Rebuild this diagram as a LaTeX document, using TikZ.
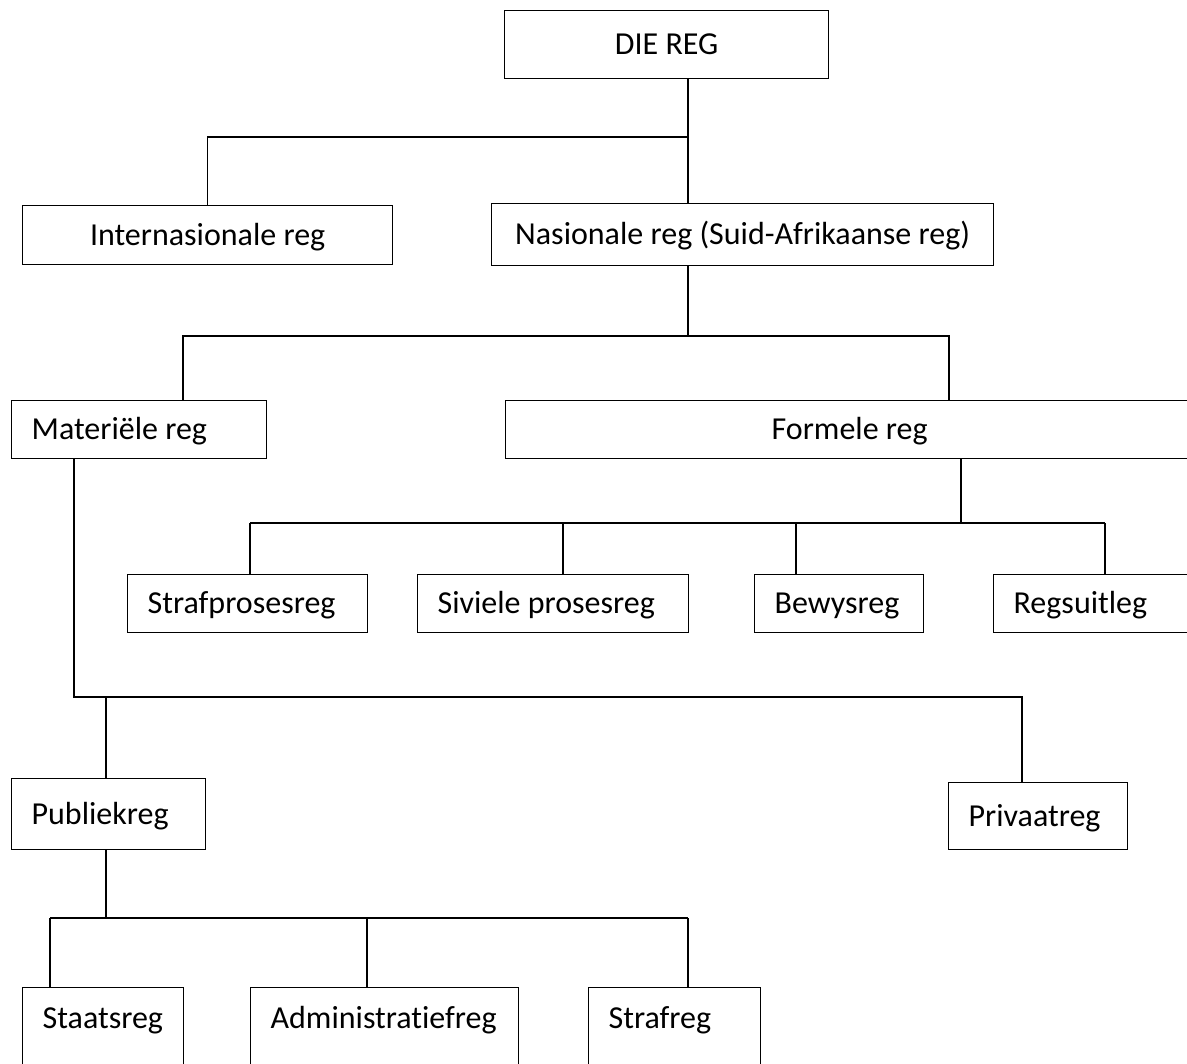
\documentclass[tikz,border=0pt]{standalone}
\usepackage{fontspec}
\setmainfont{Carlito}[Ligatures=NoCommon]
\begin{document}
\begin{tikzpicture}[x=1pt,y=-1pt]
  \tikzset{regbox/.style={draw=black,line width=1.3pt,anchor=north west,inner ysep=0pt,font=\fontsize{32}{38}\selectfont,text height=20pt,text depth=0pt}}
  \tikzset{midbox/.style={regbox,align=center,inner xsep=0pt}}
  \tikzset{leftbox/.style={regbox,align=flush left,inner xsep=20pt}}
  \tikzset{cutbox/.style={leftbox,minimum height=0pt,text height=41pt,text depth=120pt}}
  \tikzset{regline/.style={draw=black,line width=1.3pt}}
  \useasboundingbox (0,0) rectangle (1187,1064);
  \clip (0,0) rectangle (1187,1064);
  % boxes
  \node[midbox,minimum width=324pt,minimum height=68pt] (reg) at (504,10) {DIE REG};
  \node[midbox,minimum width=370pt,minimum height=59pt] (intl) at (22,205) {Internasionale reg};
  \node[midbox,minimum width=502pt,minimum height=62pt] (nas) at (491,203) {Nasionale reg (Suid-Afrikaanse reg)};
  \node[leftbox,text width=215pt,minimum height=58pt] (materieel) at (11,400) {Materiële reg};
  \node[midbox,minimum width=688pt,minimum height=58pt] (formeel) at (505,400) {Formele reg};
  \node[leftbox,text width=200pt,minimum height=58pt] (strafproses) at (127,574) {Strafprosesreg};
  \node[leftbox,text width=231pt,minimum height=58pt] (siviel) at (417,574) {Siviele prosesreg};
  \node[leftbox,text width=129pt,minimum height=58pt] (bewys) at (754,574) {Bewysreg};
  \node[leftbox,text width=190pt,minimum height=58pt] (uitleg) at (993,574) {Regsuitleg};
  \node[leftbox,text width=154pt,minimum height=71pt] (publiek) at (11,778) {Publiekreg};
  \node[leftbox,text width=139pt,minimum height=67pt] (privaat) at (948,782) {Privaatreg};
  \node[cutbox,text width=121pt] (staats) at (22,987) {Staatsreg};
  \node[cutbox,text width=228pt] (admin) at (250,987) {Administratiefreg};
  \node[cutbox,text width=132pt] (straf) at (588,987) {Strafreg};
  % first fork
  \coordinate (fork1) at (688,137);
  \draw[regline] (reg.south -| fork1) -- (nas.north -| fork1);
  \draw[regline] (fork1) -| (intl.north);
  % second fork
  \coordinate (fork2) at (688,336);
  \coordinate (fork2l) at (183,336);
  \coordinate (fork2r) at (949,336);
  \draw[regline] (nas.south -| fork2) -- (fork2);
  \draw[regline] (fork2l |- materieel.north) -- (fork2l) -- (fork2r) -- (fork2r |- formeel.north);
  % formele reg
  \coordinate (fork3) at (961,523);
  \draw[regline] (formeel.south -| fork3) -- (fork3);
  \draw[regline] (250,523) -- (1105,523);
  \foreach \x/\n in {250/strafproses,563/siviel,796/bewys,1105/uitleg}{
    \coordinate (leg) at (\x,523);
    \draw[regline] (leg) -- (leg |- \n.north);
  }
  % materiele reg
  \coordinate (fork4) at (74,697);
  \coordinate (fork4l) at (106,697);
  \coordinate (fork4r) at (1022,697);
  \draw[regline] (materieel.south -| fork4) -- (fork4) -- (fork4r) -- (fork4r |- privaat.north);
  \draw[regline] (fork4l) -- (fork4l |- publiek.north);
  % publiekreg
  \coordinate (fork5) at (106,918);
  \draw[regline] (publiek.south -| fork5) -- (fork5);
  \draw[regline] (50,918) -- (688,918);
  \foreach \x/\n in {50/staats,367/admin,688/straf}{
    \coordinate (leg) at (\x,918);
    \draw[regline] (leg) -- (leg |- \n.north);
  }
\end{tikzpicture}
\end{document}
